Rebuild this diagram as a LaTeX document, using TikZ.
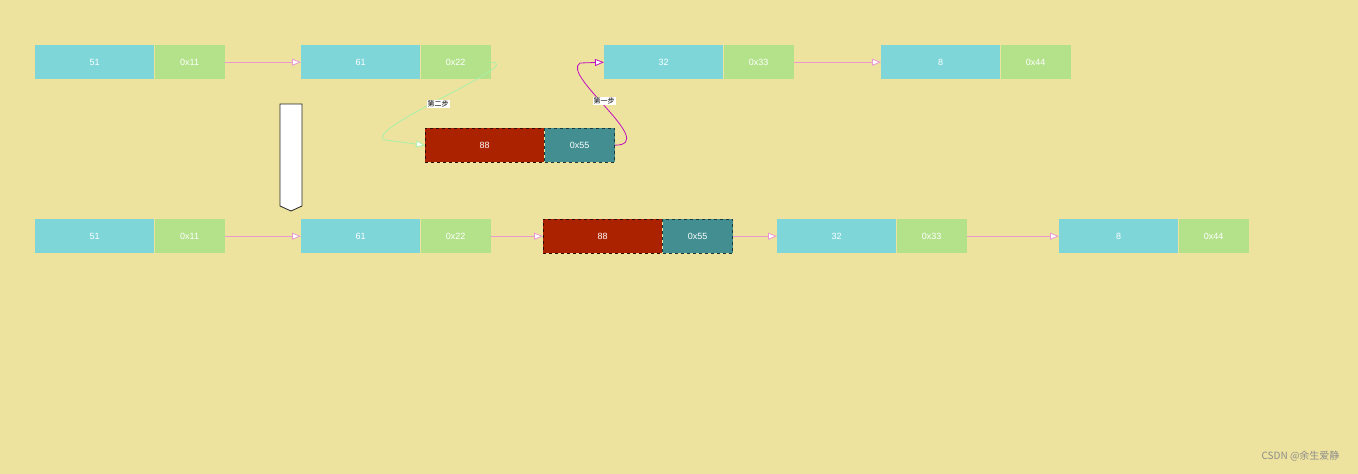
\documentclass[tikz,border=0pt]{standalone}
\usepackage{fontspec}
\setmainfont{Liberation Sans}
\newfontfamily\cjk{Noto Sans CJK SC}
\usetikzlibrary{arrows.meta}
\definecolor{bg}{HTML}{EEE39E}
\definecolor{cy}{HTML}{7FD6D9}
\definecolor{gr}{HTML}{B4E28B}
\definecolor{rd}{HTML}{AA2200}
\definecolor{tl}{HTML}{428E90}
\definecolor{pk}{HTML}{E89AD0}
\definecolor{lg}{HTML}{A8F0A8}
\definecolor{mg}{HTML}{C010C0}
\begin{document}
\begin{tikzpicture}[x=1pt,y=-1pt,
 val/.style={fill=cy,minimum width=119pt,minimum height=34pt,inner sep=0,text=white,font=\small},
 ptr/.style={fill=gr,minimum width=70pt,minimum height=34pt,inner sep=0,text=white,font=\small},
 nval/.style={fill=rd,draw=black!70!rd,dashed,minimum width=119pt,minimum height=34pt,inner sep=0,text=white,font=\small},
 nptr/.style={fill=tl,draw=black!60!tl,dashed,minimum width=70pt,minimum height=34pt,inner sep=0,text=white,font=\small},
 lnk/.style={draw=pk,thick,-{Triangle[open,fill=white,length=9pt,width=7pt]}},
 lab/.style={fill=white,inner sep=1pt,font=\cjk\scriptsize}]
\fill[bg] (0,0) rectangle (1358,474);
\useasboundingbox (0,0) rectangle (1358,474);
% row 1
\node[val,anchor=north west] (a1) at (35,45) {51};
\node[ptr,anchor=west] (a1p) at (a1.east) {0x11};
\node[val,anchor=north west] (b1) at (301,45) {61};
\node[ptr,anchor=west] (b1p) at (b1.east) {0x22};
\node[val,anchor=north west] (c1) at (604,45) {32};
\node[ptr,anchor=west] (c1p) at (c1.east) {0x33};
\node[val,anchor=north west] (d1) at (881,45) {8};
\node[ptr,anchor=west] (d1p) at (d1.east) {0x44};
\draw[lnk] (a1p) -- (b1);
\draw[lnk] (c1p) -- (d1);
% new node
\node[nval,anchor=north west] (n) at (425,128) {88};
\node[nptr,anchor=west] (np) at (n.east) {0x55};
\draw[lg,thick,-{Triangle[open,fill=white,length=9pt,width=7pt]}] (b1p.east) .. controls (530,62) and (360,130) .. (385,140) -- (n.west) ;
\node[lab] at (438,104) {第二步};
\draw[mg,thick,-{Triangle[open,fill=white,length=9pt,width=7pt]}] (np.east) .. controls (660,145) and (560,75) .. (580,63) -- (c1.west);
\node[lab] at (604,101) {第一步};
% pointer arrow
\draw[black!85,thick,fill=white] (280,104) -- (302,104) -- (302,206) -- (291,211) -- (280,206) -- cycle;
% row 2
\node[val,anchor=north west] (a2) at (35,219) {51};
\node[ptr,anchor=west] (a2p) at (a2.east) {0x11};
\node[val,anchor=north west] (b2) at (301,219) {61};
\node[ptr,anchor=west] (b2p) at (b2.east) {0x22};
\node[nval,anchor=north west] (e2) at (543,219) {88};
\node[nptr,anchor=west] (e2p) at (e2.east) {0x55};
\node[val,anchor=north west] (c2) at (777,219) {32};
\node[ptr,anchor=west] (c2p) at (c2.east) {0x33};
\node[val,anchor=north west] (d2) at (1059,219) {8};
\node[ptr,anchor=west] (d2p) at (d2.east) {0x44};
\draw[lnk] (a2p) -- (b2);
\draw[lnk] (b2p) -- (e2);
\draw[lnk] (e2p) -- (c2);
\draw[lnk] (c2p) -- (d2);
\node[anchor=east,text=black!45,font=\cjk\normalsize] (wm) at (1343,456) {CSDN @余生爱静};
\end{tikzpicture}
\end{document}
